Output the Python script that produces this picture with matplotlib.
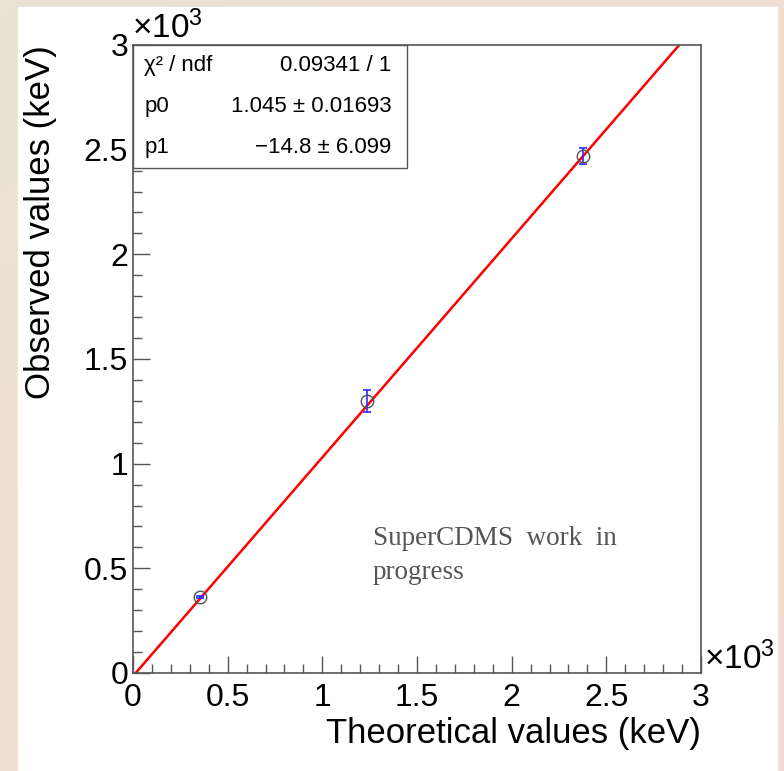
import numpy as np
import matplotlib
matplotlib.use("Agg")
import matplotlib.pyplot as plt
from matplotlib.ticker import MultipleLocator, FuncFormatter
from matplotlib.patches import Rectangle

# measured points (keV)
theoretical = [354, 1236, 2377]
observed = [363, 1299, 2470]
obs_err = [6, 52, 37]

# linear fit result
p0, p0_err = 1.045, 0.01693
p1, p1_err = -14.8, 6.099
chi2, ndf = 0.09341, 1

x_range = [0, 3000]

plt.rcParams['font.family'] = ['Liberation Sans', 'DejaVu Sans']
plt.rcParams['mathtext.fontset'] = 'custom'
plt.rcParams['mathtext.rm'] = 'Liberation Sans'
plt.rcParams['mathtext.it'] = 'Liberation Sans:italic'

W, H = 784, 771
fig = plt.figure(figsize=(W / 100, H / 100), dpi=100)

# slide-like background with white canvas
bg = fig.add_axes([0, 0, 1, 1], zorder=-5)
c1 = np.array([235, 226, 211]) / 255
c2 = np.array([243, 220, 213]) / 255
gx, gy = np.meshgrid(np.linspace(0, 1, 64), np.linspace(0, 1, 64))
t = np.clip(0.6 * gx + 0.5 * gy, 0, 1)[..., None]
bg.imshow(c1 * (1 - t) + c2 * t, extent=[0, 1, 0, 1], aspect='auto', origin='upper')
bg.add_patch(Rectangle((18 / W, 0), (777 - 18) / W, 1 - 7 / H,
                       transform=bg.transAxes, color='white'))
bg.set_xlim(0, 1)
bg.set_ylim(0, 1)
bg.axis('off')

left, right, top, bottom = 133, 701, 45, 673
ax = fig.add_axes([left / W, 1 - bottom / H, (right - left) / W, (bottom - top) / H])

# fit line
xf = np.array(x_range, dtype=float)
ax.plot(xf, p0 * xf + p1, color='red', lw=1.8, zorder=2)

# data points
ax.errorbar(theoretical, observed, yerr=obs_err, fmt='none', ecolor='#2b2bff',
            elinewidth=1.2, capsize=3, capthick=1.2, zorder=3)
ax.plot(theoretical, observed, 'o', ms=9, mfc='none', mec='#555555', mew=1.0, zorder=4)

ax.set_xlim(x_range)
ax.set_ylim(x_range)

fmt = FuncFormatter(lambda v, pos: f'{v / 1000:g}')
for axis in (ax.xaxis, ax.yaxis):
    axis.set_major_locator(MultipleLocator(500))
    axis.set_minor_locator(MultipleLocator(100))
    axis.set_major_formatter(fmt)

spine_col = '#555555'
for s in ax.spines.values():
    s.set_color(spine_col)
    s.set_linewidth(1.2)
ax.tick_params(which='both', direction='in', color=spine_col, width=1.0,
               top=False, right=False, labelsize=23)
ax.tick_params(which='major', length=12)
ax.tick_params(which='minor', length=6.5)
ax.tick_params(axis='x', pad=7)
ax.tick_params(axis='y', pad=3.5)

ax.set_xlabel('Theoretical values (keV)', fontsize=25, loc='right')
ax.set_ylabel('Observed values (keV)', fontsize=25, loc='top')
ax.xaxis.set_label_coords(1.0, -0.07)
ax.yaxis.set_label_coords(-0.133, 1.0)

# exponent markers
ax.text(1.005, -0.005, r'$\times10^{3}$', transform=ax.transAxes, fontsize=24,
        ha='left', va='bottom')
ax.text(-0.002, 1.0, r'$\times10^{3}$', transform=ax.transAxes, fontsize=24,
        ha='left', va='bottom')

# stats box
box_w = (407 - left) / (right - left)
box_h = (168 - top) / (bottom - top)
ax.add_patch(Rectangle((0, 1 - box_h), box_w, box_h, transform=ax.transAxes,
                       facecolor='white', edgecolor=spine_col, lw=1.0, zorder=5))
rows = [('χ² / ndf', f'{chi2:.4g} / {ndf}'),
        ('p0', f'{p0:.4g} ± {p0_err:.4g}'),
        ('p1', f'−{abs(p1):.3g} ± {p1_err:.4g}')]
for i, (name, val) in enumerate(rows):
    yy = 1 - box_h * (i + 0.5) / 3
    ax.text(0.02, yy, name, transform=ax.transAxes, fontsize=16,
            ha='left', va='center', zorder=6)
    ax.text(box_w - 0.027, yy, val, transform=ax.transAxes, fontsize=16,
            ha='right', va='center', zorder=6)

ax.text((373 - left) / (right - left), (bottom - 526) / (bottom - top),
        'SuperCDMS  work  in\nprogress', transform=ax.transAxes,
        fontsize=19.5, family='Liberation Serif', color='#555555',
        ha='left', va='top', linespacing=1.45)

fig.savefig('out.png', dpi=100)
